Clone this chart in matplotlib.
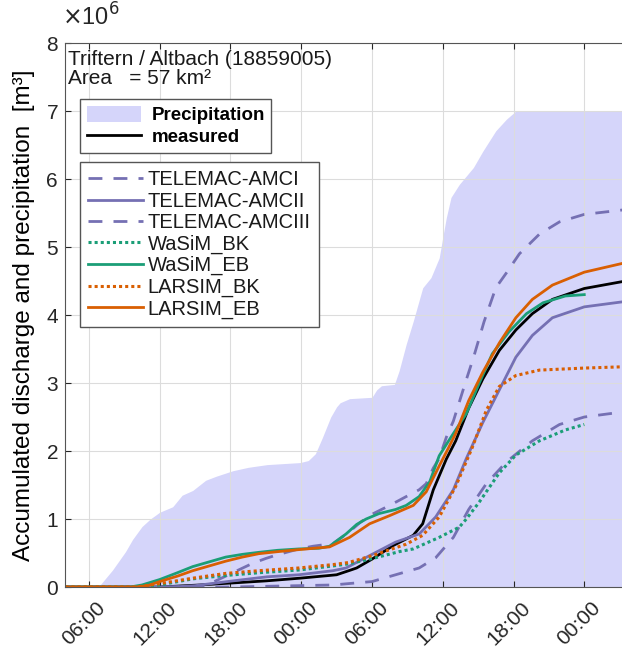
import numpy as np
import matplotlib.pyplot as plt
from matplotlib.ticker import FuncFormatter

plt.rcParams['font.family'] = ['Liberation Sans', 'DejaVu Sans']

# hours after 06:00 on day 1, volumes in 10^6 m3
precip_h = [-2, 0.8, 2, 3.1, 3.7, 4.5, 5.2, 6, 7.1, 7.9, 8.8, 9.9, 10.8, 12.2, 13.5, 15.1,
            17.9, 18.6, 19.2, 19.8, 20.5, 21.0, 21.3, 22.1, 24.0, 24.4, 24.8, 25.9, 26.3,
            26.9, 27.5, 28.3, 29.0, 29.7, 30.0, 30.3, 30.7, 31.4, 32.6, 33.4, 34.5, 35.4,
            36.2, 45.5]
precip_v = [0, 0, 0.25, 0.52, 0.7, 0.89, 1.0, 1.1, 1.18, 1.35, 1.42, 1.57, 1.63, 1.71, 1.76, 1.80,
            1.83, 1.86, 1.96, 2.2, 2.5, 2.65, 2.71, 2.77, 2.79, 2.9, 2.96, 2.98, 3.18,
            3.57, 3.91, 4.4, 4.55, 4.84, 5.14, 5.43, 5.73, 5.92, 6.17, 6.41, 6.71, 6.88,
            7.0, 7.0]

meas_h = [-2, 6, 9.4, 12.2, 15, 17.9, 20.4, 21, 22.2, 22.7, 24, 25.8, 27.5, 28.3, 29.2, 30.3,
          31.1, 32.2, 33.4, 34.8, 36.2, 37.6, 39.3, 42, 45.5]
meas_v = [0, 0, 0.03, 0.06, 0.09, 0.13, 0.17, 0.18, 0.25, 0.28, 0.41, 0.61, 0.76, 0.93, 1.43, 1.88,
          2.15, 2.63, 3.06, 3.48, 3.78, 4.02, 4.23, 4.39, 4.5]

amc1_h = [-2, 9.3, 10.5, 11.6, 12.8, 13.9, 15.0, 15.9, 17.8, 19, 20.7, 22, 23, 24, 25.5, 26.9,
          28, 28.6, 29.2, 29.7, 30.3, 30.9, 32, 32.6, 33.5, 34.5, 35.4, 36.5, 38.2, 39.9, 42, 45.5]
amc1_v = [0, 0, 0.07, 0.16, 0.26, 0.35, 0.42, 0.47, 0.56, 0.6, 0.64, 0.8, 0.95, 1.07, 1.2, 1.33,
          1.43, 1.52, 1.75, 1.89, 2.2, 2.44, 3.05, 3.37, 3.9, 4.4, 4.62, 4.9, 5.19, 5.37, 5.48, 5.55]

amc2_h = [-2, 7, 9, 12.2, 15.1, 17.8, 20.7, 21.8, 24, 26, 28, 29.4, 30.9, 32, 33.4, 34.8, 36.2,
          37.6, 39.3, 42, 45.5]
amc2_v = [0, 0, 0.02, 0.09, 0.15, 0.18, 0.24, 0.28, 0.48, 0.66, 0.78, 1.03, 1.43, 1.89, 2.42, 2.9,
          3.38, 3.7, 3.96, 4.12, 4.2]

amc3_h = [-2, 12, 17.8, 20.7, 22, 24, 26, 28, 29.4, 30.9, 32.2, 33.7, 35.4, 37.6, 39.9, 42, 45.5]
amc3_v = [0, 0, 0.02, 0.03, 0.05, 0.08, 0.18, 0.28, 0.43, 0.73, 1.14, 1.52, 1.84, 2.15, 2.39, 2.5, 2.58]

wasim_bk_h = [-2, 4, 6, 8.8, 11.6, 14.4, 17.8, 20.7, 22, 24.3, 26.3, 27.5, 29.7, 31.4, 32,
              33.1, 34.8, 36.2, 38.2, 40.4, 42]
wasim_bk_v = [0, 0, 0.03, 0.12, 0.17, 0.21, 0.25, 0.31, 0.34, 0.43, 0.52, 0.56, 0.73, 0.88, 1.0,
              1.25, 1.68, 1.94, 2.15, 2.31, 2.39]

wasim_eb_h = [-2, 3.5, 4.5, 6, 7.5, 8.8, 10.2, 11.6, 13, 14.4, 16, 17.8, 19.5, 20.4, 21.8, 22.7,
              23.5, 24.6, 26, 26.9, 28, 28.9, 29.7, 30.5, 31.1, 32, 33.1, 34.2, 35.6, 37.1,
              38.5, 40.4, 42]
wasim_eb_v = [0, 0, 0.03, 0.11, 0.21, 0.3, 0.37, 0.44, 0.48, 0.51, 0.54, 0.56, 0.57, 0.6, 0.78, 0.92,
              1.0, 1.08, 1.14, 1.2, 1.33, 1.55, 1.93, 2.15, 2.31, 2.55, 3.0, 3.43, 3.75, 4.02,
              4.18, 4.28, 4.3]

larsim_bk_h = [-2, 4, 6, 8.8, 11.6, 14.4, 17.8, 20.7, 22, 24, 26.9, 28.3, 29.7, 31.1, 32.5, 33.7,
               34.8, 36.2, 38.2, 42, 45.5]
larsim_bk_v = [0, 0, 0.05, 0.13, 0.2, 0.24, 0.28, 0.33, 0.36, 0.46, 0.63, 0.76, 1.03, 1.48, 2.05, 2.6,
               2.95, 3.11, 3.19, 3.22, 3.24]

larsim_eb_h = [-2, 4, 5, 6, 7.5, 8.8, 10.2, 11.6, 13, 14.4, 16, 17.8, 20.4, 22.1, 23.8, 25.5, 27.5,
               28.6, 29.7, 30.5, 31.1, 32.2, 33.4, 34.8, 36.2, 37.6, 39.3, 42, 45.5]
larsim_eb_v = [0, 0, 0.02, 0.08, 0.16, 0.24, 0.31, 0.38, 0.44, 0.49, 0.52, 0.55, 0.59, 0.73, 0.93,
               1.05, 1.2, 1.4, 1.78, 2.05, 2.26, 2.74, 3.16, 3.59, 3.96, 4.23, 4.44, 4.63, 4.77]

tick_hours = [0, 6, 12, 18, 24, 30, 36, 42]
tick_labels = ["06:00", "12:00", "18:00", "00:00", "06:00", "12:00", "18:00", "00:00"]

purple = "#7570b3"
green = "#1b9e77"
orange = "#d95f02"
dark = "#262626"
frame = "#555555"


def m3(v):
    return np.array(v) * 1e6


fig = plt.figure(figsize=(6.22, 6.5), dpi=100)
ax = fig.add_axes([0.1045, 0.0969, 0.8955, 0.8369])

h_fill = ax.fill_between(precip_h, 0, m3(precip_v), color="#d5d5fa", lw=0, label="Precipitation")
h_meas, = ax.plot(meas_h, m3(meas_v), color="black", lw=2, label="measured")

l1, = ax.plot(amc1_h, m3(amc1_v), color=purple, lw=2, ls=(0, (5, 4)), label="TELEMAC-AMCI")
l2, = ax.plot(amc2_h, m3(amc2_v), color=purple, lw=2, label="TELEMAC-AMCII")
l3, = ax.plot(amc3_h, m3(amc3_v), color=purple, lw=2, ls=(0, (5, 4)), label="TELEMAC-AMCIII")
l4, = ax.plot(wasim_bk_h, m3(wasim_bk_v), color=green, lw=2.2, ls=(0, (1, 1)), label="WaSiM_BK")
l5, = ax.plot(wasim_eb_h, m3(wasim_eb_v), color=green, lw=2, label="WaSiM_EB")
l6, = ax.plot(larsim_bk_h, m3(larsim_bk_v), color=orange, lw=2.2, ls=(0, (1, 1)), label="LARSIM_BK")
l7, = ax.plot(larsim_eb_h, m3(larsim_eb_v), color=orange, lw=2, label="LARSIM_EB")

ax.set_xlim(-2.03, 45.2)
ax.set_ylim(0, 8e6)
ax.set_yticks(m3(range(9)))
ax.yaxis.set_major_formatter(FuncFormatter(lambda y, pos: f"{y / 1e6:g}"))
ax.set_xticks(tick_hours)
ax.set_xticklabels([])
# rotated time labels, placed a little right of the tick like in MATLAB
for h, lab in zip(tick_hours, tick_labels):
    ax.annotate(lab, xy=(h, 0), xycoords=ax.get_xaxis_transform(), xytext=(7, -11),
                textcoords="offset pixels", rotation=45, rotation_mode="anchor",
                ha="right", va="top", fontsize=15, color=dark, annotation_clip=False)

ax.grid(True, color="#dcdcdc", lw=0.8)
for g in ax.get_xgridlines() + ax.get_ygridlines():
    g.set_zorder(0.5)
h_fill.set_zorder(0.4)

ax.tick_params(direction="in", length=4, labelsize=15, colors=dark, top=True,
               labeltop=False, pad=5)
for side in ["left", "bottom", "top"]:
    ax.spines[side].set_color(frame)
ax.spines["right"].set_visible(False)

ax.set_ylabel("Accumulated discharge and precipitation  [m³]", fontsize=17.5, color="black",
              labelpad=8)

# scale factor shown above the y axis, like the MATLAB exponent label
ax.annotate(r"$\times$10$^6$", xy=(0, 1), xycoords="axes fraction", xytext=(-3, 12),
            textcoords="offset pixels", ha="left", va="bottom", fontsize=17, color=dark)

ax.text(0.006, 0.987, "Triftern / Altbach (18859005)\nArea   = 57 km²", transform=ax.transAxes,
        ha="left", va="top", fontsize=15, linespacing=1.0, color="#1a1a1a")

leg1 = ax.legend(handles=[h_fill, h_meas], loc="upper left", bbox_to_anchor=(0.027, 0.897),
                 prop={"weight": "bold", "size": 13.5}, handlelength=2.9, handleheight=0.95,
                 handletextpad=0.55, labelspacing=0.2, borderpad=0.35, frameon=True,
                 fancybox=False, edgecolor=frame, framealpha=1, borderaxespad=0)
ax.add_artist(leg1)
leg2 = ax.legend(handles=[l1, l2, l3, l4, l5, l6, l7], loc="upper left",
                 bbox_to_anchor=(0.027, 0.781), fontsize=14.5, handlelength=2.75,
                 handletextpad=0.2, labelspacing=0.12, borderpad=0.4, frameon=True,
                 fancybox=False, edgecolor=frame, framealpha=1, borderaxespad=0)
for t in leg2.get_texts():
    t.set_color("#1a1a1a")

fig.savefig("out.png", dpi=100)
